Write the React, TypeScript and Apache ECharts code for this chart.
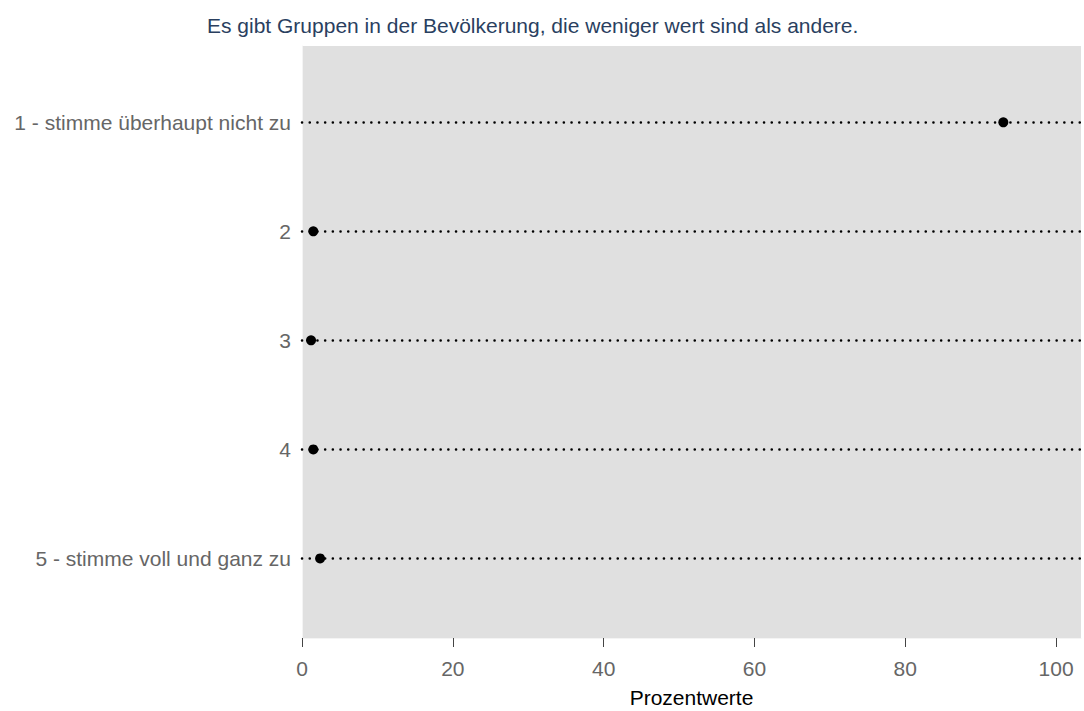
import React, { useEffect, useRef } from "react";
import * as echarts from "echarts";

const titleText = "Es gibt Gruppen in der Bevölkerung, die weniger wert sind als andere.";
const categories = [
  "1 - stimme überhaupt nicht zu",
  "2",
  "3",
  "4",
  "5 - stimme voll und ganz zu",
];
const values = [93.0, 1.5, 1.2, 1.5, 2.4];
const xTicks = [0, 20, 40, 60, 80, 100];
const xAxisTitle = "Prozentwerte";

const FONT = "'Liberation Sans', Arial, Helvetica, sans-serif";

export default function App() {
  const ref = useRef<HTMLDivElement>(null);
  useEffect(() => {
    if (!ref.current) return;
    const chart = echarts.init(ref.current, undefined, { renderer: "svg" });
    const positions = categories.map((_, i) => i + 1);
    chart.setOption({
      animation: false,
      backgroundColor: "#ffffff",
      textStyle: { fontFamily: FONT },
      title: {
        text: titleText,
        left: 202,
        top: 10,
        textStyle: { color: "#2a3f5f", fontSize: 21, fontWeight: "normal", fontFamily: FONT },
      },
      grid: {
        left: 302,
        right: 3,
        top: 46,
        bottom: 73,
        outerBoundsMode: "none",
        containLabel: false,
        show: true,
        backgroundColor: "#e0e0e0",
        borderWidth: 0,
      },
      xAxis: {
        type: "value",
        min: 0,
        max: 103.3,
        interval: 20,
        axisLine: { show: true, lineStyle: { color: "#f4f4f4", width: 1 } },
        axisTick: { show: true, length: 9, customValues: xTicks, lineStyle: { color: "#444", width: 1 } },
        axisLabel: {
          color: "#666",
          fontSize: 21,
          fontFamily: FONT,
          margin: 20,
          customValues: xTicks,
        },
        splitLine: { show: false },
        name: xAxisTitle,
        nameLocation: "middle",
        nameGap: 49,
        nameTextStyle: { color: "#000", fontSize: 21, fontFamily: FONT },
      },
      yAxis: {
        type: "value",
        inverse: true,
        min: 0.3,
        max: 5.73,
        axisLine: { show: true, lineStyle: { color: "#f4f4f4", width: 1 } },
        axisTick: { show: false, customValues: positions },
        axisLabel: {
          color: "#666",
          fontSize: 21,
          fontFamily: FONT,
          margin: 11,
          customValues: positions,
          formatter: (v: number) => categories[Math.round(v) - 1] ?? "",
        },
        splitLine: { show: false },
      },
      series: [
        {
          type: "scatter",
          symbol: "circle",
          symbolSize: 10,
          itemStyle: { color: "#000", opacity: 1 },
          data: values.map((v, i) => [v, i + 1]),
          z: 5,
          markLine: {
            silent: true,
            symbol: ["none", "none"],
            label: { show: false },
            z: 3,
            lineStyle: { color: "#000", width: 2.5, type: [0.1, 7.6], cap: "round", opacity: 1 },
            data: positions.map((p) => ({ yAxis: p })),
          },
        },
      ],
    });
    return () => chart.dispose();
  }, []);
  return (
    <div
      ref={ref}
      style={{ position: "fixed", left: 0, top: 0, width: 1084, height: 711 }}
    />
  );
}
